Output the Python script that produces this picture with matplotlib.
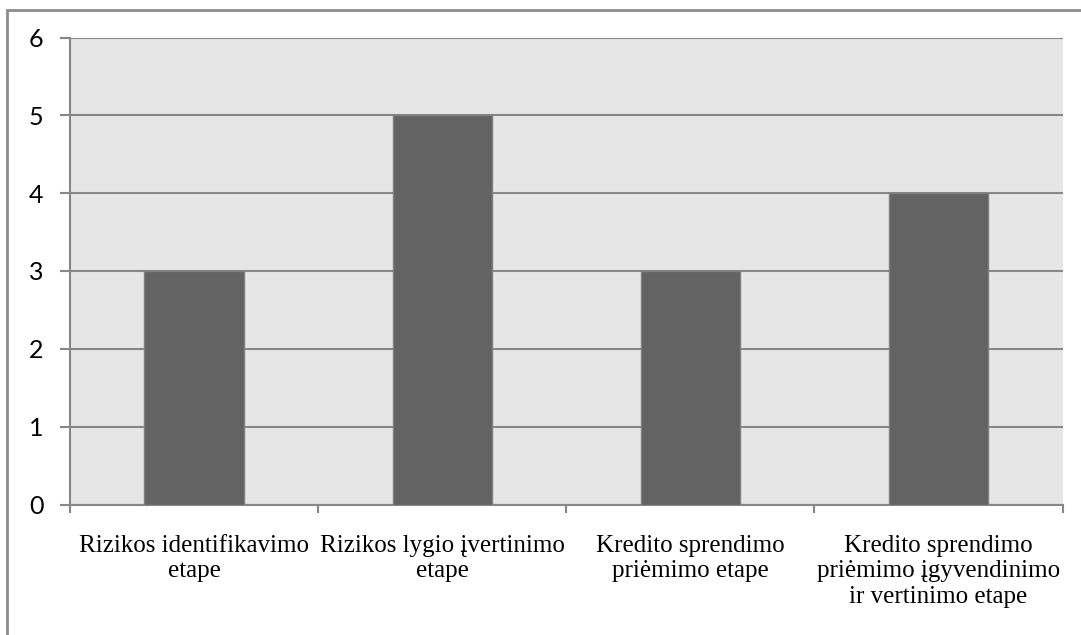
import matplotlib
matplotlib.use("Agg")
import matplotlib.pyplot as plt
from matplotlib.patches import Rectangle

categories = ["Rizikos identifikavimo\netape",
              "Rizikos lygio įvertinimo\netape",
              "Kredito sprendimo\npriėmimo etape",
              "Kredito sprendimo\npriėmimo įgyvendinimo\nir vertinimo etape"]
values = [3, 5, 3, 4]
yticks = [0, 1, 2, 3, 4, 5, 6]

W, H = 1081, 635
fig = plt.figure(figsize=(W / 100, H / 100), dpi=100)
fig.patch.set_facecolor("white")

# outer chart border (clipped at right/bottom as in reference)
fig.patches.append(Rectangle((7 / W, -0.05), 1.2, 1 - 10 / H + 0.05,
                             transform=fig.transFigure, fill=False,
                             edgecolor="#8c8c8c", linewidth=2.0))

left, right, top, bottom = 70, 1062.5, 37.5, 504.5
ax = fig.add_axes([left / W, 1 - bottom / H, (right - left) / W, (bottom - top) / H])
ax.set_facecolor("#e6e6e6")

x = list(range(len(categories)))
ax.bar(x, values, width=0.40, color="#636363", edgecolor="#7f7f7f",
       linewidth=1.0, zorder=3)

ax.set_xlim(-0.5, len(categories) - 0.5)
ax.set_ylim(0, 6)
ax.set_yticks(yticks)
ax.set_yticklabels([str(v) for v in yticks], fontfamily="Lato", fontsize=18)
ax.yaxis.grid(True, color="#878787", linewidth=1.5, zorder=1)
ax.set_axisbelow(True)

ax.set_xticks(x)
ax.set_xticklabels(categories, fontfamily="Liberation Serif", fontsize=18,
                   linespacing=1.2)
ax.tick_params(axis="x", length=0, pad=22)
ax.set_xticks([i + 0.5 for i in range(-1, len(categories))], minor=True)
ax.tick_params(axis="x", which="minor", length=6, color="#878787", width=1.5)
ax.tick_params(axis="y", length=7, color="#878787", width=1.5, pad=12)

for s in ["top", "right"]:
    ax.spines[s].set_visible(False)
ax.spines["left"].set_color("#878787")
ax.spines["left"].set_linewidth(1.5)
ax.spines["bottom"].set_color("#878787")
ax.spines["bottom"].set_linewidth(1.5)

fig.savefig("out.png", dpi=100)
